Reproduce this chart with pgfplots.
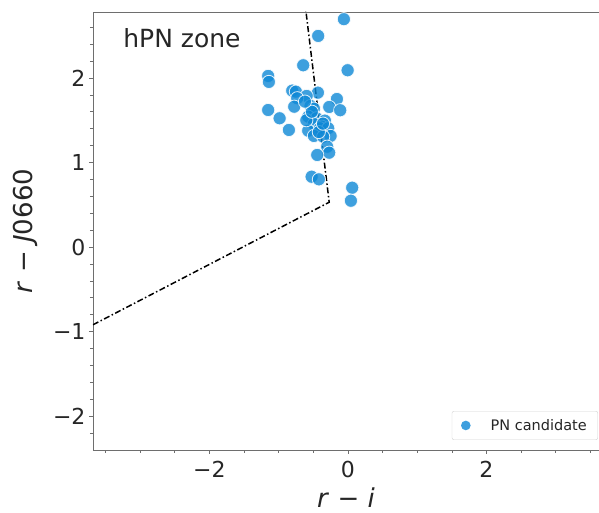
\documentclass[border=0pt]{standalone}
\usepackage{fontspec}
\setmainfont{DejaVu Sans}
\usepackage{pgfplots}
\pgfplotsset{compat=1.18}
\definecolor{pnblue}{RGB}{14,136,214}
\definecolor{spine}{RGB}{110,110,110}

\begin{document}
\begin{tikzpicture}
\begin{axis}[
  at={(0,0)}, anchor=south west,
  scale only axis, width=506pt, height=438pt,
  xmin=-3.68, xmax=3.625, ymin=-2.40, ymax=2.78,
  axis x line*=bottom, axis y line*=left,
  axis line style={spine, line width=0.8pt, -},
  xtick={-2,0,2}, xticklabels={−2,0,2},
  ytick={-2,-1,0,1,2}, yticklabels={−2,−1,0,1,2},
  minor xtick={-3.5,-3,-2.5,-1.5,-1,-0.5,0.5,1,1.5,2.5,3,3.5},
  minor ytick={-2.2,-1.8,-1.6,-1.4,-1.2,-0.8,-0.6,-0.4,-0.2,0.2,0.4,0.6,0.8,1.2,1.4,1.6,1.8,2.2,2.4,2.6},
  tick align=outside, major tick length=4pt, minor tick length=3pt,
  tick style={spine, line width=0.6pt},
  ticklabel style={font=\fontsize{22}{26}\selectfont, text=black!85},
  xticklabel style={yshift=-4pt},
  xlabel={\textit{r} − \textit{i}},
  ylabel={\textit{r} − \textit{J}0660},
  xlabel style={at={(axis description cs:0.5,-0.109)}, anchor=center, font=\fontsize{26}{30}\selectfont, text=black!85},
  ylabel style={at={(axis description cs:-0.134,0.5)}, anchor=center, font=\fontsize{26}{30}\selectfont, text=black!85},
  clip=true,
  legend cell align=left,
  legend style={at={(axis description cs:0.998,0.023)}, anchor=south east,
    font=\fontsize{14.5}{17}\selectfont, draw=gray!35, rounded corners=2pt,
    inner xsep=9pt, inner ysep=6pt, text=black!85},
  legend image code/.code={\fill[pnblue, fill opacity=0.8, draw=none] (0pt,0) circle (4.8pt);},
]
\addplot[black, line width=1.5pt, dash pattern=on 6pt off 2.5pt on 1.5pt off 2.5pt, forget plot]
  coordinates {(-4.0,-1.055) (-0.27,0.53) (-0.63,2.95)};
\addplot[only marks, mark=*, mark size=6.6pt,
  mark options={fill=pnblue, fill opacity=0.8, draw=white, draw opacity=0.85, line width=0.8pt}]
  coordinates {
(-0.058,2.695) (-0.429,2.497) (-0.645,2.150) (-0.004,2.091)
(-1.151,2.024) (-1.141,1.953) (-0.804,1.850) (-0.751,1.838)
(-0.433,1.826) (-0.596,1.787) (-0.732,1.760) (-0.159,1.751)
(-0.775,1.660) (-0.539,1.669) (-0.491,1.637) (-0.270,1.657)
(-0.111,1.618) (-1.151,1.621) (-0.986,1.523) (-0.573,1.542)
(-0.452,1.523) (-0.332,1.495) (-0.491,1.456) (-0.380,1.424)
(-0.404,1.405) (-0.284,1.405) (-0.852,1.385) (-0.573,1.376)
(-0.491,1.314) (-0.250,1.314) (-0.357,1.305) (-0.299,1.187)
(-0.270,1.116) (-0.443,1.089) (-0.524,0.832) (-0.419,0.801)
(0.062,0.702) (0.043,0.548) (-0.60,1.50) (-0.42,1.36)
(-0.36,1.46) (-0.52,1.60) (-0.62,1.72)
  };
\addlegendentry{\hspace{18pt}PN candidate}
\draw[spine, line width=0.8pt] (rel axis cs:0,1) -- (rel axis cs:1,1);
\node[anchor=base west, font=\fontsize{25}{30}\selectfont, text=black!85] at (axis description cs:0.053,0.920) {hPN zone};
\end{axis}
\pgfresetboundingbox
\useasboundingbox (-93pt,-63pt) rectangle (506pt,450pt);
\end{tikzpicture}
\end{document}
